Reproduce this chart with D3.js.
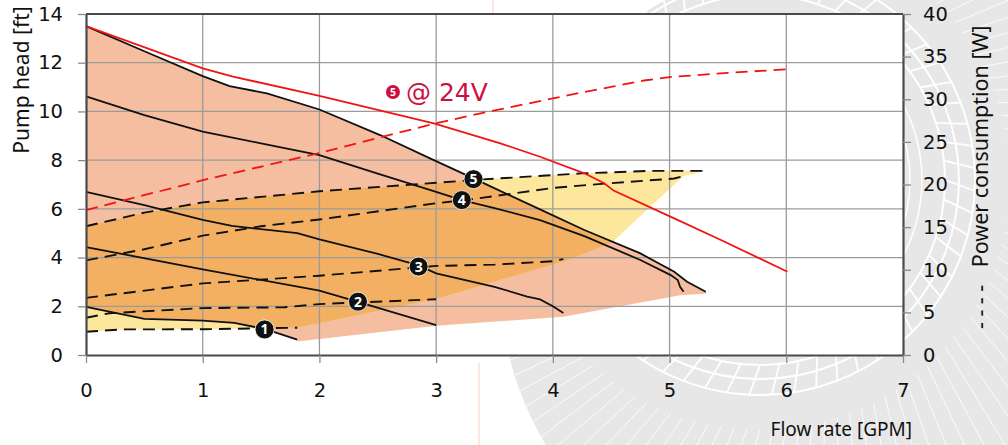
<!DOCTYPE html>
<html>
<head>
<meta charset="utf-8">
<script src="https://cdn.jsdelivr.net/npm/d3@7"></script>
<style>
  body { margin: 0; background: #fff; }
  svg { display: block; font-family: "Noto Sans", sans-serif; }
</style>
</head>
<body>
<svg id="chart"></svg>
<script>
// ---- data (flow in GPM, head in ft, power in W) ----
const flowTicks = [0, 1, 2, 3, 4, 5, 6, 7];
const headTicks = [0, 2, 4, 6, 8, 10, 12, 14];
const powerTicks = [0, 5, 10, 15, 20, 25, 30, 35, 40];

// head curves, speed 1..5
const head1 = [[0, 1.98], [0.5, 1.48], [1.0, 1.41], [1.27, 1.32], [1.53, 1.07], [1.81, 0.63]];
const head2 = [[0, 4.43], [1.0, 3.52], [2.0, 2.64], [2.33, 2.18], [3.0, 1.23]];
const head3 = [[0, 6.7], [0.5, 6.15], [1.0, 5.55], [1.25, 5.3], [1.81, 5.0], [2.0, 4.75], [2.5, 4.15],
               [2.85, 3.68], [3.0, 3.35], [3.5, 2.8], [3.78, 2.4], [3.89, 2.28], [4.0, 2.0], [4.09, 1.72]];
const head4 = [[0, 10.62], [0.5, 9.85], [1.0, 9.17], [1.5, 8.69], [2.0, 8.21], [2.5, 7.45], [3.0, 6.7],
               [3.22, 6.36], [3.5, 6.03], [3.89, 5.54], [4.27, 4.88], [4.75, 3.9], [5.01, 3.28],
               [5.07, 3.08], [5.09, 2.8], [5.12, 2.6]];
const head5 = [[0, 13.5], [0.5, 12.47], [1.0, 11.45], [1.23, 11.04], [1.55, 10.74], [2.0, 10.08],
               [2.52, 9.03], [2.98, 8.0], [3.32, 7.25], [3.89, 5.98], [4.27, 5.13], [4.75, 4.17],
               [5.04, 3.42], [5.15, 3.01], [5.31, 2.6]];
const head5at24V = [[0, 13.5], [1.0, 11.77], [1.26, 11.43], [2.0, 10.64], [2.98, 9.51], [3.55, 8.69],
                    [3.89, 8.14], [4.27, 7.46], [4.44, 7.05], [4.52, 6.75], [5.04, 5.61], [5.44, 4.72],
                    [6.01, 3.42]];

// power curves, speed 1..5
const power1 = [[0, 2.73], [0.3, 3.0], [1.0, 3.02], [1.81, 3.2]];
const power2 = [[0, 4.37], [0.2, 4.9], [1.0, 5.5], [1.7, 5.6], [2.0, 5.97], [3.0, 6.54]];
const power3 = [[0, 6.7], [1.0, 8.4], [2.0, 9.3], [3.0, 10.45], [3.5, 10.6], [4.0, 11.0], [4.09, 11.25]];
const power4 = [[0, 11.1], [0.5, 12.4], [1.0, 14.0], [1.5, 15.1], [2.0, 15.9], [3.0, 17.8], [3.32, 18.3],
                [4.0, 19.6], [4.44, 20.1], [5.04, 20.7], [5.12, 21.0]];
const power5 = [[0, 15.1], [0.5, 16.7], [1.0, 17.9], [2.0, 19.2], [3.0, 20.2], [3.4, 20.6], [4.24, 21.3],
                [4.84, 21.6], [5.31, 21.6]];
const power5at24V = [[0, 17.0], [1.0, 20.5], [2.0, 23.7], [3.0, 27.2], [3.4, 28.4], [4.0, 30.1],
                     [4.25, 30.8], [4.52, 31.5], [4.78, 32.2], [5.0, 32.6], [5.5, 33.1], [6.0, 33.5]];

// lower limit of the head envelope and the right edge of the power envelope
const headLowEdge = [[1.81, 0.55], [3.0, 1.2], [4.09, 1.57], [5.09, 2.45], [5.32, 2.53]];
const powerRightEdge = [[5.31, 21.6], [5.12, 21.0], [4.75, 16.3], [4.5, 13.1], [4.1, 11.0], [3.0, 6.57], [1.81, 3.2]];

// speed markers
const markerPos = [[1.53, 1.05], [2.33, 2.19], [2.85, 3.63], [3.22, 6.36], [3.32, 7.22]];
const markerText = ["1", "2", "3", "4", "5"];

// ---- layout ----
const W = 1008, H = 445;
const svg = d3.select("#chart").attr("width", W).attr("height", H);

const x = d3.scaleLinear().domain([0, 7]).range([86, 903]);
const yL = d3.scaleLinear().domain([0, 14]).range([355, 14]);
const yR = d3.scaleLinear().domain([0, 40]).range([355, 14]);

// decorative grey wheel behind the chart
const defs = svg.append("defs");
const bgClip = defs.append("clipPath").attr("id", "bgClip");
bgClip.append("circle").attr("cx", 820).attr("cy", 280).attr("r", 320);
bgClip.append("rect").attr("x", 905).attr("y", 0).attr("width", 103).attr("height", H);

const bg = svg.append("g").attr("clip-path", "url(#bgClip)");
bg.append("rect").attr("width", W).attr("height", H).attr("fill", "#e7e7e7");
const web = bg.append("g").attr("stroke", "#fff").attr("fill", "none");
[185, 199, 215].forEach(r => {
  web.append("circle").attr("cx", 760).attr("cy", 180).attr("r", r).attr("stroke-width", 2);
});
d3.range(0, 360, 6).forEach(a => {
  const t = a * Math.PI / 180;
  web.append("line")
    .attr("x1", 760 + 185 * Math.cos(t)).attr("y1", 180 + 185 * Math.sin(t))
    .attr("x2", 760 + 215 * Math.cos(t + 0.05)).attr("y2", 180 + 215 * Math.sin(t + 0.05))
    .attr("stroke-width", 1.8);
});
d3.range(0, 360, 3).forEach(a => {
  const t = a * Math.PI / 180;
  web.append("line")
    .attr("x1", 760 + 250 * Math.cos(t)).attr("y1", 180 + 250 * Math.sin(t))
    .attr("x2", 760 + 420 * Math.cos(t + 0.12)).attr("y2", 180 + 420 * Math.sin(t + 0.12))
    .attr("stroke-width", 1).attr("stroke-opacity", 0.8);
});
d3.range(90, 170, 12).forEach(r => {
  web.append("circle").attr("cx", 760).attr("cy", 180).attr("r", r).attr("stroke-width", 1.5);
});
svg.append("line").attr("x1", 479).attr("x2", 479).attr("y1", 363).attr("y2", H)
  .attr("stroke", "#f7d9cb").attr("stroke-width", 1.2);
svg.append("line").attr("x1", 493).attr("x2", 493).attr("y1", 0).attr("y2", 14)
  .attr("stroke", "#f7d9cb").attr("stroke-width", 1.2);

// plot area
svg.append("rect")
  .attr("x", x(0)).attr("y", yL(14))
  .attr("width", x(7) - x(0)).attr("height", yL(0) - yL(14))
  .attr("fill", "#fff");

// envelopes
const headPt = d => [x(d[0]), yL(d[1])];
const powPt = d => [x(d[0]), yR(d[1])];

const headArea = head5.map(headPt)
  .concat(headLowEdge.slice().reverse().map(headPt))
  .concat(head1.slice().reverse().map(headPt));
const powerArea = power5.map(powPt)
  .concat(powerRightEdge.slice(1).map(powPt))
  .concat(power1.slice().reverse().map(powPt));

const poly = d3.line();
defs.append("clipPath").attr("id", "headClip").append("path").attr("d", poly(headArea) + "Z");

svg.append("path").attr("d", poly(headArea) + "Z").attr("fill", "#f5bea0");
svg.append("path").attr("d", poly(powerArea) + "Z").attr("fill", "#fde79c");
svg.append("path").attr("d", poly(powerArea) + "Z").attr("fill", "#f3b062")
  .attr("clip-path", "url(#headClip)");

// grid
const grid = svg.append("g").attr("stroke", "#9b9b9b").attr("stroke-width", 1.3);
flowTicks.slice(1, -1).forEach(v => {
  grid.append("line").attr("x1", x(v)).attr("x2", x(v)).attr("y1", yL(0)).attr("y2", yL(14));
});
headTicks.slice(1, -1).forEach(v => {
  grid.append("line").attr("x1", x(0)).attr("x2", x(7)).attr("y1", yL(v)).attr("y2", yL(v));
});

// curves
const headLine = d3.line().x(d => x(d[0])).y(d => yL(d[1]));
const powLine = d3.line().x(d => x(d[0])).y(d => yR(d[1]));

[head1, head2, head3, head4, head5].forEach(c => {
  svg.append("path").attr("d", headLine(c))
    .attr("fill", "none").attr("stroke", "#111").attr("stroke-width", 1.8);
});
[power1, power2, power3, power4, power5].forEach(c => {
  svg.append("path").attr("d", powLine(c))
    .attr("fill", "none").attr("stroke", "#111").attr("stroke-width", 1.9)
    .attr("stroke-dasharray", "12,7");
});
svg.append("path").attr("d", headLine(head5at24V))
  .attr("fill", "none").attr("stroke", "#f01414").attr("stroke-width", 1.8);
svg.append("path").attr("d", powLine(power5at24V))
  .attr("fill", "none").attr("stroke", "#f01414").attr("stroke-width", 1.8)
  .attr("stroke-dasharray", "12,7");

// top border
svg.append("line").attr("x1", x(0)).attr("x2", x(7)).attr("y1", yL(14)).attr("y2", yL(14))
  .attr("stroke", "#4a4a4a").attr("stroke-width", 2);

// axes
function styleAxis(g) {
  g.select(".domain").attr("stroke", "#4a4a4a").attr("stroke-width", 2.2);
  g.selectAll(".tick line").attr("stroke", "#8a8a8a").attr("stroke-width", 1.3);
  g.selectAll(".tick text").attr("fill", "#111").attr("font-size", 19.5)
    .attr("font-family", "'DejaVu Sans', sans-serif");
}
svg.append("g").attr("transform", `translate(${x(0)},0)`)
  .call(d3.axisLeft(yL).tickValues(headTicks).tickFormat(d3.format("d"))
    .tickSize(8).tickSizeOuter(0).tickPadding(15))
  .call(styleAxis);
svg.append("g").attr("transform", `translate(0,${yL(0)})`)
  .call(d3.axisBottom(x).tickValues(flowTicks).tickFormat(d3.format("d"))
    .tickSize(8).tickSizeOuter(0).tickPadding(20))
  .call(styleAxis);
svg.append("g").attr("transform", `translate(${x(7)},0)`)
  .call(d3.axisRight(yR).tickValues(powerTicks).tickFormat(d3.format("d"))
    .tickSize(8).tickSizeOuter(0).tickPadding(12))
  .call(styleAxis);

// markers
const mk = svg.append("g");
markerPos.forEach((p, i) => {
  const g = mk.append("g").attr("transform", `translate(${x(p[0])},${yL(p[1])})`);
  g.append("circle").attr("r", 9.5).attr("fill", "#111").attr("stroke", "#fff").attr("stroke-width", 0.8);
  g.append("text").attr("text-anchor", "middle").attr("dy", "0.36em")
    .attr("fill", "#fff").attr("font-size", 14).attr("font-weight", "bold")
    .text(markerText[i]);
});

// red label
const lab = svg.append("g").attr("transform", `translate(${x(2.63)},${yL(10.8)})`);
lab.append("circle").attr("r", 7).attr("fill", "#cc1040");
lab.append("text").attr("text-anchor", "middle").attr("dy", "0.36em")
  .attr("fill", "#fff").attr("font-size", 10.5).attr("font-weight", "bold").text("5");
lab.append("text").attr("x", 13).attr("dy", "0.36em")
  .attr("fill", "#cc1040").attr("font-size", 25)
  .attr("font-family", "'DejaVu Sans', sans-serif").text("@ 24V");

// axis titles
svg.append("text").attr("transform", "translate(29,80) rotate(-90)")
  .attr("text-anchor", "middle").attr("font-size", 21).attr("fill", "#111").text("Pump head [ft]");
svg.append("text").attr("x", 912).attr("y", 436)
  .attr("text-anchor", "end").attr("font-size", 19).attr("fill", "#111").text("Flow rate [GPM]");
const rt = svg.append("text").attr("transform", "translate(988,329) rotate(-90)")
  .attr("font-size", 21.5).attr("fill", "#111");
rt.append("tspan").attr("letter-spacing", 5.5).text("----");
rt.append("tspan").attr("dx", 12).text("Power consumption [W]");
</script>
</body>
</html>
